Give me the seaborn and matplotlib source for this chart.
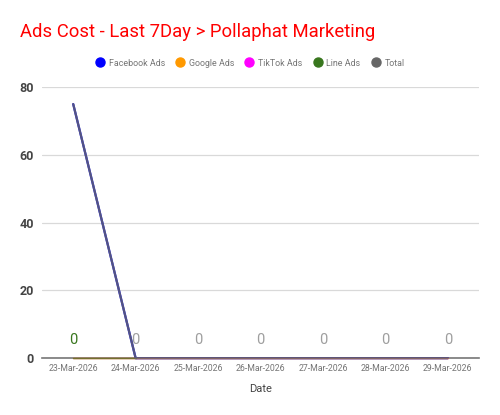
import matplotlib
matplotlib.use("Agg")
import matplotlib.pyplot as plt
from matplotlib.lines import Line2D
import seaborn as sns
import pandas as pd

# data
dates = ["23-Mar-2026", "24-Mar-2026", "25-Mar-2026", "26-Mar-2026",
         "27-Mar-2026", "28-Mar-2026", "29-Mar-2026"]
facebook_ads = [75, 0, 0, 0, 0, 0, 0]
google_ads = [0, 0, 0, 0, 0, 0, 0]
tiktok_ads = [0, 0, 0, 0, 0, 0, 0]
line_ads = [0, 0, 0, 0, 0, 0, 0]
total = [75, 0, 0, 0, 0, 0, 0]
point_labels = ["0", "0", "0", "0", "0", "0", "0"]

series_names = ["Facebook Ads", "Google Ads", "TikTok Ads", "Line Ads", "Total"]
series_colors = ["#0000ff", "#ff9900", "#ff00ff", "#38761d", "#666666"]

df = pd.DataFrame({
    "Date": dates * 5,
    "pos": list(range(len(dates))) * 5,
    "Cost": facebook_ads + google_ads + tiktok_ads + line_ads + total,
    "Series": sum([[n] * len(dates) for n in series_names], []),
})

sns.set_style("white")
plt.rcParams["font.family"] = ["Roboto", "DejaVu Sans"]

fig = plt.figure(figsize=(5.0, 4.15), dpi=100)
ax = fig.add_axes([0.084, 0.137, 0.874, 0.653])

ax.set_xlim(-0.5, 6.5)
ax.set_ylim(0, 80)
ax.set_yticks([0, 20, 40, 60, 80])
ax.set_xticks(range(len(dates)))
ax.set_xticklabels(dates, fontsize=6.3, color="#757575")
ax.tick_params(axis="y", labelsize=9, colors="#444444", length=0, pad=6)
for lab in ax.get_yticklabels():
    lab.set_fontweight("bold")
ax.tick_params(axis="x", direction="in", length=8, color="#e6e6e6", pad=4)
ax.yaxis.grid(True, color="#d9d9d9", linewidth=0.9)
ax.set_axisbelow(True)
for s in ["top", "right", "left"]:
    ax.spines[s].set_visible(False)
ax.spines["bottom"].set_color("#777777")
ax.spines["bottom"].set_linewidth(1.2)

alphas = {"Facebook Ads": 1.0, "Google Ads": 1.0, "TikTok Ads": 0.35,
          "Line Ads": 0.7, "Total": 0.82}
for name, color in zip(series_names, series_colors):
    sub = df[df["Series"] == name]
    if name == "Line Ads":
        # only visible where nothing else sits on top
        sub = sub[sub["pos"] <= 1]
    lw = 1.0 if name in ("Line Ads", "TikTok Ads", "Google Ads") else 1.6
    sns.lineplot(data=sub, x="pos", y="Cost", color=color, ax=ax,
                 linewidth=lw, alpha=alphas[name], legend=False,
                 zorder=5, clip_on=False)

# value labels above each point
for i, lab in enumerate(point_labels):
    c = "#38761d" if i == 0 else "#9e9e9e"
    ax.text(i, 3.2, lab, ha="center", va="bottom", fontsize=10.5, color=c)

ax.set_xlabel("Date", fontsize=8, color="#444444", labelpad=8)
ax.set_ylabel("")

fig.text(0.04, 0.922, "Ads Cost - Last 7Day > Pollaphat Marketing",
         fontsize=13.3, color="#ff0000", ha="left", va="center")

handles = [Line2D([0], [0], marker="o", linestyle="", markersize=6.5,
                  markerfacecolor=c, markeredgecolor=c) for c in series_colors]
leg = fig.legend(handles, series_names, loc="center", bbox_to_anchor=(0.5, 0.848),
                 ncol=5, frameon=False, fontsize=6.4, handletextpad=0.5,
                 columnspacing=1.2, handlelength=1.0)
for t in leg.get_texts():
    t.set_color("#757575")

fig.savefig("out.png", dpi=100)
